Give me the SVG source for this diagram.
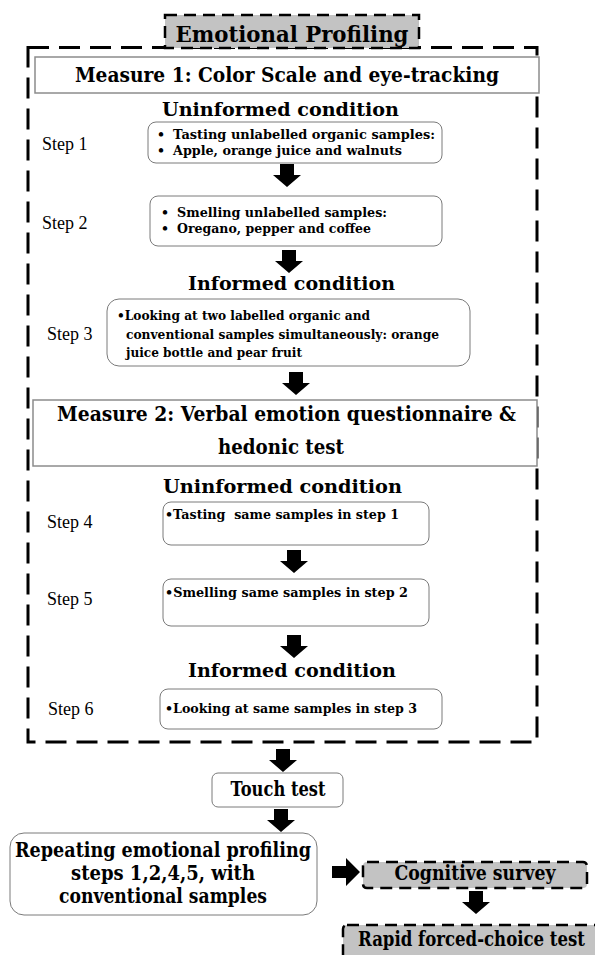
<svg xmlns="http://www.w3.org/2000/svg" xmlns:xlink="http://www.w3.org/1999/xlink" width="595" height="955" viewBox="0 0 595 955">
<style>
text{font-family:"DejaVu Serif","Liberation Serif",serif;fill:#000}
.h{font-weight:bold;font-size:19px}
.t{font-weight:bold;font-size:20px}
.s{font-weight:bold;font-size:12.5px}
.l{font-family:"Liberation Serif",serif;font-size:18px}
.box{fill:#fff;stroke:#7a7a7a;stroke-width:1}
.mbox{fill:#fff;stroke:#8c8c8c;stroke-width:1.5}
.dash{fill:#c3c3c3;stroke:#000;stroke-width:2.5;stroke-dasharray:12 7}
.outer{fill:none;stroke:#000;stroke-width:3;stroke-dasharray:21 10}
.arr{fill:#000}
</style>
<defs>
<path id="ad" d="M-7,0 h14 v11 h7 l-14,12 l-14,-12 h7 z"/>
<path id="ar" d="M0,-6 h14 v-8 l14,14 l-14,14 v-8 h-14 z"/>
</defs>
<g id="outer-frame"><rect class="outer" x="28" y="47.5" width="509" height="694.5"/></g>
<g id="emotional-profiling">
<rect class="dash" x="165" y="15" width="254" height="33"/>
<text x="292" y="42" text-anchor="middle" style="font-weight:bold;font-size:23px" textLength="233" lengthAdjust="spacingAndGlyphs">Emotional Profiling</text>
</g>
<g id="measure1">
<rect class="mbox" x="35" y="57" width="504" height="36"/>
<text class="t" x="75" y="82" textLength="424" lengthAdjust="spacingAndGlyphs">Measure 1: Color Scale and eye-tracking</text>
</g>
<g id="uninformed1"><text class="h" x="162" y="116" textLength="237" lengthAdjust="spacingAndGlyphs">Uninformed condition</text></g>
<g id="step1">
<text class="l" x="42" y="150">Step 1</text>
<rect class="box" x="148" y="122" width="294" height="41" rx="8"/>
<text class="s" x="157" y="139">•</text>
<text class="s" x="173" y="139" textLength="262" lengthAdjust="spacingAndGlyphs">Tasting unlabelled organic samples:</text>
<text class="s" x="157" y="155">•</text>
<text class="s" x="173" y="155" textLength="229" lengthAdjust="spacingAndGlyphs">Apple, orange juice and walnuts</text>
</g>
<g id="step2">
<text class="l" x="42" y="229">Step 2</text>
<rect class="box" x="150" y="196" width="292" height="50" rx="8"/>
<text class="s" x="161" y="217">•</text>
<text class="s" x="177" y="217" textLength="210" lengthAdjust="spacingAndGlyphs">Smelling unlabelled samples:</text>
<text class="s" x="161" y="233">•</text>
<text class="s" x="177" y="233" textLength="194" lengthAdjust="spacingAndGlyphs">Oregano, pepper and coffee</text>
</g>
<g id="informed1"><text class="h" x="188" y="290" textLength="207" lengthAdjust="spacingAndGlyphs">Informed condition</text></g>
<g id="step3">
<text class="l" x="47" y="340">Step 3</text>
<rect class="box" x="107" y="299" width="363" height="67" rx="12"/>
<text class="s" x="117" y="320" textLength="253" lengthAdjust="spacingAndGlyphs">•Looking at two labelled organic and</text>
<text class="s" x="126" y="339" textLength="313" lengthAdjust="spacingAndGlyphs">conventional samples simultaneously: orange</text>
<text class="s" x="126" y="357" textLength="176" lengthAdjust="spacingAndGlyphs">juice bottle and pear fruit</text>
</g>
<g id="measure2">
<rect class="mbox" x="33" y="400" width="504" height="66"/>
<text class="t" x="57" y="421" textLength="459" lengthAdjust="spacingAndGlyphs">Measure 2: Verbal emotion questionnaire &amp;</text>
<text class="t" x="281" y="454" text-anchor="middle" textLength="126" lengthAdjust="spacingAndGlyphs">hedonic test</text>
</g>
<g id="uninformed2"><text class="h" x="163" y="493" textLength="239" lengthAdjust="spacingAndGlyphs">Uninformed condition</text></g>
<g id="step4">
<text class="l" x="47" y="528">Step 4</text>
<rect class="box" x="163" y="502" width="266" height="43" rx="8"/>
<text class="s" x="165" y="519" textLength="234" lengthAdjust="spacingAndGlyphs" xml:space="preserve">•Tasting  same samples in step 1</text>
</g>
<g id="step5">
<text class="l" x="47" y="605">Step 5</text>
<rect class="box" x="163" y="579" width="266" height="47" rx="8"/>
<text class="s" x="165" y="597" textLength="243" lengthAdjust="spacingAndGlyphs">•Smelling same samples in step 2</text>
</g>
<g id="informed2"><text class="h" x="188" y="677" textLength="208" lengthAdjust="spacingAndGlyphs">Informed condition</text></g>
<g id="step6">
<text class="l" x="48" y="715">Step 6</text>
<rect class="box" x="160" y="689" width="282" height="40" rx="8"/>
<text class="s" x="165" y="713" textLength="252" lengthAdjust="spacingAndGlyphs">•Looking at same samples in step 3</text>
</g>
<g id="touch-test">
<rect class="box" x="212" y="773" width="131" height="34" rx="6"/>
<text class="t" x="278" y="796" text-anchor="middle" textLength="95" lengthAdjust="spacingAndGlyphs">Touch test</text>
</g>
<g id="repeating">
<rect class="box" x="10" y="833" width="307" height="82" rx="14"/>
<text class="t" x="163" y="857" text-anchor="middle" textLength="296" lengthAdjust="spacingAndGlyphs">Repeating emotional profiling</text>
<text class="t" x="163" y="880" text-anchor="middle" textLength="184" lengthAdjust="spacingAndGlyphs">steps 1,2,4,5, with</text>
<text class="t" x="163" y="903" text-anchor="middle" textLength="208" lengthAdjust="spacingAndGlyphs">conventional samples</text>
</g>
<g id="cognitive-survey">
<rect class="dash" x="363" y="862" width="224" height="26" rx="4"/>
<text class="t" x="475" y="880" text-anchor="middle" textLength="161" lengthAdjust="spacingAndGlyphs">Cognitive survey</text>
</g>
<g id="rapid-test">
<rect class="dash" x="343" y="925" width="270" height="45" rx="4"/>
<text class="t" x="358" y="946" textLength="227" lengthAdjust="spacingAndGlyphs">Rapid forced-choice test</text>
</g>
<g id="connectors" class="arr">
<use xlink:href="#ad" x="287" y="164"/>
<use xlink:href="#ad" x="289" y="250"/>
<use xlink:href="#ad" x="296" y="372"/>
<use xlink:href="#ad" x="294" y="550"/>
<use xlink:href="#ad" x="294" y="635"/>
<use xlink:href="#ad" x="283" y="749"/>
<use xlink:href="#ad" x="281" y="809"/>
<use xlink:href="#ar" x="332" y="872"/>
<use xlink:href="#ad" x="476" y="891"/>
</g>
</svg>
